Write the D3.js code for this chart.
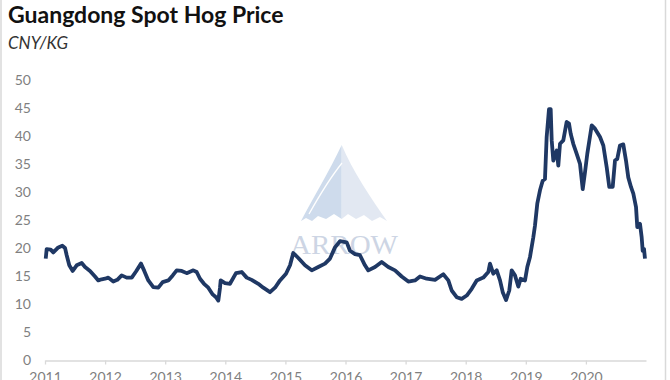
<!DOCTYPE html>
<html><head><meta charset="utf-8">
<script src="https://cdn.jsdelivr.net/npm/d3@7"></script>
<style>html,body{margin:0;padding:0;background:#fff;}svg{display:block;}</style>
</head><body>
<svg id="c" width="670" height="380"></svg>
<script>
// Decimal year offsets from 2011 and prices (CNY/KG)
const years = [2011,2012,2013,2014,2015,2016,2017,2018,2019,2020];
const yTicks = [0,5,10,15,20,25,30,35,40,45,50];
const t = [0.012,0.028,0.095,0.138,0.221,0.288,0.333,0.361,0.404,0.461,0.527,0.611,0.666,0.749,0.832,0.887,0.943,0.998,1.053,1.136,1.203,1.276,1.359,1.443,1.514,1.597,1.652,1.719,1.802,1.885,1.958,2.052,2.125,2.191,2.275,2.358,2.468,2.524,2.579,2.646,2.717,2.790,2.845,2.884,2.912,2.923,2.995,3.078,3.178,3.273,3.356,3.439,3.549,3.632,3.744,3.827,3.910,4.010,4.077,4.131,4.215,4.326,4.438,4.547,4.659,4.742,4.825,4.908,5.020,5.075,5.158,5.241,5.324,5.379,5.491,5.602,5.712,5.824,5.935,6.045,6.156,6.240,6.351,6.489,6.627,6.711,6.767,6.850,6.933,7.017,7.100,7.183,7.293,7.376,7.404,7.459,7.516,7.571,7.616,7.671,7.725,7.765,7.820,7.875,7.915,7.987,8.025,8.070,8.125,8.153,8.191,8.236,8.281,8.319,8.347,8.386,8.414,8.431,8.458,8.514,8.541,8.569,8.624,8.680,8.719,8.747,8.790,8.847,8.902,8.947,8.985,9.023,9.097,9.151,9.235,9.290,9.346,9.389,9.446,9.484,9.522,9.567,9.622,9.667,9.705,9.750,9.789,9.834,9.855,9.900,9.928,9.945,9.967,9.983];
const price = [18.2,19.9,19.8,19.3,20.2,20.5,20.1,18.8,17.0,16.0,17.0,17.4,16.7,16.0,15.0,14.3,14.5,14.6,14.8,14.1,14.4,15.2,14.8,14.8,15.9,17.3,16.0,14.3,13.1,13.0,14.0,14.3,15.2,16.1,16.0,15.6,16.1,15.8,14.6,13.7,13.0,11.8,11.3,10.7,13.0,14.3,13.8,13.7,15.6,15.8,14.8,14.4,13.7,13.0,12.2,13.0,14.3,15.5,17.0,19.2,18.3,17.0,16.1,16.7,17.3,18.2,20.2,21.3,21.1,19.6,19.0,18.8,17.0,16.1,16.7,17.6,16.7,16.1,15.0,14.1,14.3,15.0,14.6,14.4,15.4,14.3,12.5,11.3,11.0,11.6,12.8,14.3,14.8,15.8,17.3,15.5,16.1,14.3,12.2,10.8,12.5,16.1,15.2,13.2,14.6,14.3,16.7,18.5,22.0,24.1,28.0,30.4,32.1,32.4,39.9,44.9,44.9,39.3,35.7,37.5,34.8,38.7,39.3,42.6,42.3,40.5,38.7,36.9,35.1,30.6,33.6,36.9,42.0,41.4,39.9,38.4,34.5,31.0,31.0,35.7,36.0,38.4,38.6,35.7,32.7,31.0,29.8,27.4,23.8,24.4,22.0,19.6,19.9,18.2];

const svg = d3.select('#c');
const F = 'Lato, "Open Sans", sans-serif';

// frame lines
svg.append('line').attr('x1',1).attr('x2',1).attr('y1',0).attr('y2',380).attr('stroke','#d9d9d9').attr('stroke-width',1.5);
svg.append('line').attr('x1',665.5).attr('x2',665.5).attr('y1',0).attr('y2',380).attr('stroke','#d9d9d9').attr('stroke-width',1.5);

const x = d3.scaleLinear().domain([2011, 2021]).range([45, 646]);
const y = d3.scaleLinear().domain([0, 50]).range([360.5, 80.5]);

// watermark
const wm = svg.append('g').attr('opacity',0.9);
wm.append('path').attr('fill','#c9d8ea')
  .attr('d', `M341.7,145 C330,170 312,200 301,221 L306,218 L312,221 L318,216 L326,219 L334,214 L341.7,219 Z`);
wm.append('path').attr('fill','#dfe6f1')
  .attr('d', `M341.7,145 C352,170 372,200 387,221 L380,217 L372,221 L364,215 L356,219 L348,214 L341.7,219 Z`);
wm.append('path').attr('fill','none').attr('stroke','#ffffff').attr('stroke-width',1.3)
  .attr('d', `M342,163 C330,178 318,198 309,214`);
wm.append('text').attr('x',344).attr('y',254).attr('text-anchor','middle')
  .attr('font-family','"Liberation Serif", "DejaVu Serif", serif').attr('font-size',27)
  .attr('fill','#c8d1e2').attr('textLength',108).attr('lengthAdjust','spacingAndGlyphs').text('ARROW');

// title
svg.append('text').attr('x',8).attr('y',23).attr('font-family',F).attr('font-weight',700)
  .attr('font-size',23).attr('fill','#111').text('Guangdong Spot Hog Price');
svg.append('text').attr('x',8).attr('y',49).attr('font-family',F).attr('font-style','italic')
  .attr('font-size',17).attr('fill','#333').text('CNY/KG');

// y axis labels
svg.append('g').selectAll('text').data(yTicks).join('text')
  .attr('x',31).attr('y',d=>y(d)).attr('dy','0.35em').attr('text-anchor','end')
  .attr('font-family',F).attr('font-size',14).attr('fill','#7f7f7f').text(d=>d);

// x axis
const xa = svg.append('g').attr('transform','translate(0,360.5)')
  .call(d3.axisBottom(x).tickValues(years).tickFormat(d3.format('d')).tickSize(4).tickSizeOuter(0).tickPadding(8));
xa.select('.domain').attr('stroke','#d9d9d9').attr('stroke-width',1.3);
xa.selectAll('.tick line').attr('stroke','#d9d9d9').attr('stroke-width',1.3);
xa.selectAll('.tick text').attr('font-family',F).attr('font-size',14).attr('fill','#7f7f7f');

// line
const line = d3.line().x((d,i)=>x(2011 + t[i])).y(d=>y(d)).curve(d3.curveLinear);
svg.append('path').datum(price).attr('d',line).attr('fill','none')
  .attr('stroke','#1f3864').attr('stroke-width',3.8).attr('stroke-linejoin','round');
</script>
</body></html>
